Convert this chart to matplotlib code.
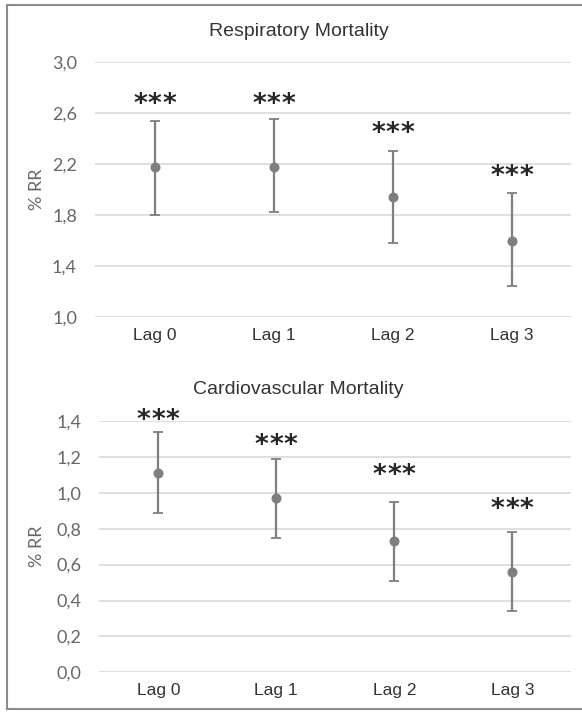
import numpy as np
import matplotlib
matplotlib.use("Agg")
import matplotlib.pyplot as plt
from matplotlib.lines import Line2D

lags = ["Lag 0", "Lag 1", "Lag 2", "Lag 3"]

# Respiratory mortality (% RR with 95% CI)
resp_rr = [2.18, 2.18, 1.94, 1.60]
resp_low = [1.80, 1.82, 1.58, 1.24]
resp_high = [2.54, 2.55, 2.30, 1.97]
resp_stars = [2.72, 2.72, 2.49, 2.15]

# Cardiovascular mortality
cardio_rr = [1.11, 0.97, 0.73, 0.56]
cardio_low = [0.89, 0.75, 0.51, 0.34]
cardio_high = [1.34, 1.19, 0.95, 0.78]
cardio_stars = [1.44, 1.30, 1.13, 0.94]

resp_ticks = [1.0, 1.4, 1.8, 2.2, 2.6, 3.0]
cardio_ticks = [0.0, 0.2, 0.4, 0.6, 0.8, 1.0, 1.2, 1.4]

W, H = 582, 713
fig = plt.figure(figsize=(W / 100, H / 100), dpi=100)

marker_col = "#7f7f7f"
grid_col = "#d9d9d9"
tick_col = "#666666"
text_col = "#333333"


def panel(rect, rr, low, high, stars, ticks, title, title_y):
    ax = fig.add_axes(rect)
    x = np.arange(len(lags))
    rr = np.array(rr)
    yerr = [rr - np.array(low), np.array(high) - rr]
    ax.errorbar(x, rr, yerr=yerr, fmt="o", color=marker_col, ms=6.2,
                elinewidth=1.6, capsize=3.5, capthick=1.3, zorder=3)
    # three asterisks per lag, spaced a bit apart like the original
    for xi, s in zip(x, stars):
        for dx in (-10.5, 0, 10.5):
            ax.annotate("*", (xi, s), xytext=(dx, -10), textcoords="offset points",
                        ha="center", va="baseline", fontsize=19, fontweight="bold",
                        family="DejaVu Sans", color="#262626", annotation_clip=False)
    ax.set_xlim(-0.5, len(lags) - 0.5)
    ax.set_ylim(ticks[0], ticks[-1])
    ax.set_yticks(ticks)
    ax.set_yticklabels([f"{t:.1f}".replace(".", ",") for t in ticks],
                       family="Lato", fontsize=13, color=tick_col)
    ax.set_xticks(x)
    ax.set_xticklabels(lags, family="Liberation Sans", fontsize=12.5, color=text_col)
    ax.tick_params(length=0)
    ax.tick_params(axis="y", pad=13)
    ax.tick_params(axis="x", pad=8)
    for sp in ax.spines.values():
        sp.set_visible(False)
    ax.set_axisbelow(True)
    ax.yaxis.grid(True, color=grid_col, lw=1.2)
    fig.text(298.5 / W, title_y, title, ha="center", va="center",
             family="Liberation Sans", fontsize=14, color=text_col)
    yc = rect[1] + rect[3] / 2
    fig.text(37 / W, yc, "% RR", rotation=90, ha="center", va="center",
             family="Lato", fontsize=13, color=tick_col)
    return ax


panel([95 / W, 1 - 317 / H, 476 / W, 255 / H], resp_rr, resp_low, resp_high,
      resp_stars, resp_ticks, "Respiratory Mortality", 1 - 31 / H)
panel([99.3 / W, 1 - 672.3 / H, 472 / W, 251.3 / H], cardio_rr, cardio_low, cardio_high,
      cardio_stars, cardio_ticks, "Cardiovascular Mortality", 1 - 389 / H)

# outer frame (no right edge visible in the reference)
bc = "#8c8c8c"
fig.add_artist(Line2D([7 / W, 7 / W], [1 - 5 / H, 1 - 709 / H], color=bc, lw=1.5))
fig.add_artist(Line2D([7 / W, 1.0], [1 - 5 / H, 1 - 5 / H], color=bc, lw=1.5))
fig.add_artist(Line2D([7 / W, 1.0], [1 - 709 / H, 1 - 709 / H], color=bc, lw=1.5))

fig.savefig("out.png", dpi=100)
